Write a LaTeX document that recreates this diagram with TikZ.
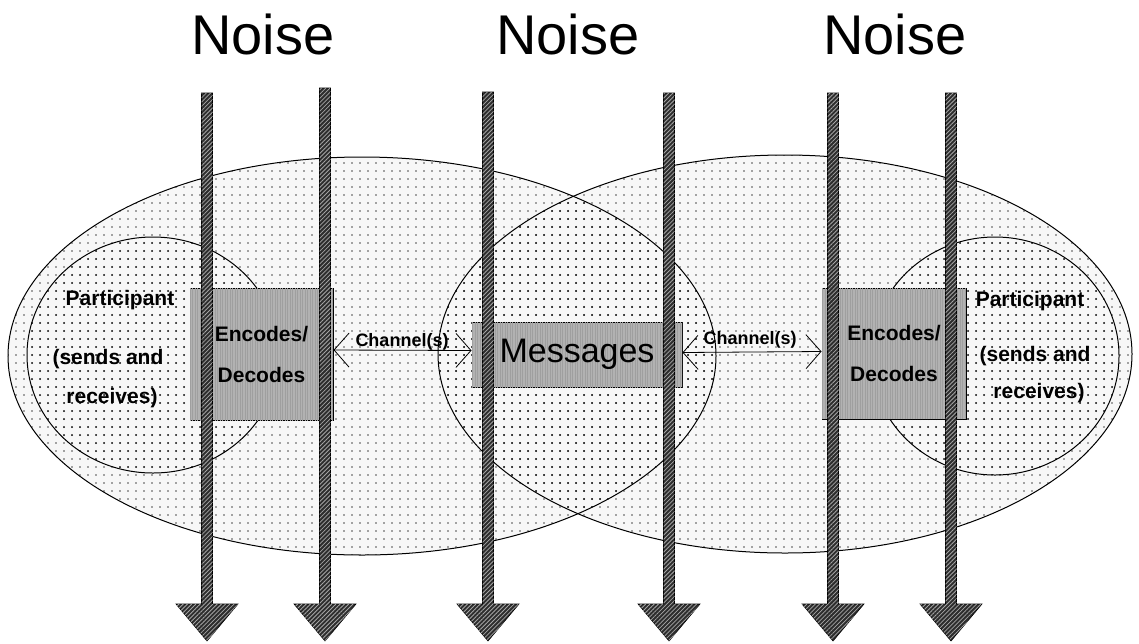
\documentclass[tikz,border=0pt]{standalone}
\usepackage{fontspec}
\setmainfont{Liberation Sans}
\usetikzlibrary{patterns.meta,arrows.meta}
\begin{document}
\begin{tikzpicture}[x=1pt,y=-1pt,
  dotsfill/.style={pattern={Dots[radius=0.95pt,distance=8pt]},pattern color=gray!60!black},
  dotsdark/.style={pattern={Dots[radius=1pt,distance=8pt]},pattern color=black!85},
  outline/.style={draw=black,line width=1pt},
  box/.style={draw=black,line width=1pt,fill=gray!60,
    postaction={pattern={Lines[angle=90,distance=2.5pt,line width=0.5pt]},pattern color=gray!75},
    inner sep=0pt,align=center},
  boxtext/.style={font=\bfseries\fontsize{21}{41}\selectfont},
  parttext/.style={font=\bfseries\fontsize{21}{24}\selectfont,anchor=base,inner sep=0pt},
  chlab/.style={font=\bfseries\fontsize{18}{20}\selectfont,anchor=base,inner sep=0pt},
  noisetext/.style={font=\fontsize{56}{60}\selectfont,anchor=base,inner sep=0pt},
  noisearrow/.style={draw=black,line width=0.6pt,fill=gray!35!black,
    postaction={pattern={Lines[angle=45,distance=3pt,line width=0.8pt]},pattern color=gray!70}},
  chan/.style={line width=0.8pt,{Straight Barb[length=15pt,width=34pt]}-{Straight Barb[length=15pt,width=34pt]}}
]
\useasboundingbox (0,0) rectangle (1139,643);
\fill[white] (0,0) rectangle (1139,643);

% ellipses: fills
\fill[gray!6] (362,356) ellipse [x radius=354pt, y radius=199pt];
\fill[gray!6] (785,354) ellipse [x radius=347pt, y radius=199pt];
\fill[dotsfill] (362,356) ellipse [x radius=354pt, y radius=199pt];
\fill[dotsfill] (785,354) ellipse [x radius=347pt, y radius=199pt];
\fill[dotsdark] (153,355) ellipse [x radius=126pt, y radius=118pt];
\fill[dotsdark] (995,356) ellipse [x radius=124pt, y radius=119pt];
\begin{scope}
  \clip (362,356) ellipse [x radius=354pt, y radius=199pt];
  \fill[dotsdark] (785,354) ellipse [x radius=347pt, y radius=199pt];
\end{scope}
% ellipses: outlines
\draw[outline] (362,356) ellipse [x radius=354pt, y radius=199pt];
\draw[outline] (785,354) ellipse [x radius=347pt, y radius=199pt];
\draw[outline] (153,355) ellipse [x radius=126pt, y radius=118pt];
\draw[outline] (995,356) ellipse [x radius=124pt, y radius=119pt];

% boxes
\node[box,boxtext,minimum width=143pt,minimum height=132pt] (lbox) at (261.5,354) {Encodes/\\Decodes};
\node[box,boxtext,minimum width=144pt,minimum height=131pt] (rbox) at (894,353.5) {Encodes/\\Decodes};
\node[box,font=\fontsize{34}{36}\selectfont,minimum width=210pt,minimum height=65pt] (msg) at (577,354.5) {Messages};

% noise arrows
\foreach \x/\t in {207/93, 325/88, 488/92, 669/93, 833/93, 951/93} {
  \draw[noisearrow] (\x-5.5,\t) -- (\x+5.5,\t) -- (\x+5.5,604) -- (\x+31,604)
    -- (\x,641) -- (\x-31,604) -- (\x-5.5,604) -- cycle;
}

% noise labels
\node[noisetext] (n1) at (263,54) {Noise};
\node[noisetext] (n2) at (568,54) {Noise};
\node[noisetext] (n3) at (895,54) {Noise};

% participants
\node[parttext] (lp1) at (120,305) {Participant};
\node[parttext] (lp2) at (108,364) {(sends and};
\node[parttext] (lp3) at (112,403) {receives)};
\node[parttext] (rp1) at (1030,306) {Participant};
\node[parttext] (rp2) at (1035,361) {(sends and};
\node[parttext] (rp3) at (1039,398) {receives)};

% channels
\draw[chan] ([yshift=4pt]lbox.east) -- ([yshift=4pt]msg.west);
\draw[chan] ([yshift=2pt]msg.east) -- ([yshift=2pt]rbox.west);
\node[chlab] (c1) at (402,346) {Channel(s)};
\node[chlab] (c2) at (750,344) {Channel(s)};
\end{tikzpicture}
\end{document}
